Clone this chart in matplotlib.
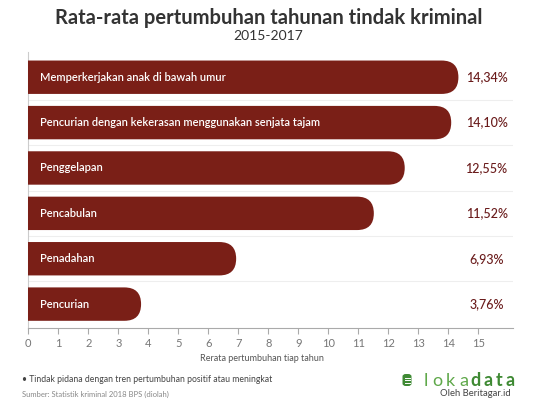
import matplotlib.pyplot as plt
from matplotlib.patches import FancyBboxPatch

plt.rcParams['font.family'] = ['Lato', 'DejaVu Sans']

categories = [
    "Memperkerjakan anak di bawah umur",
    "Pencurian dengan kekerasan menggunakan senjata tajam",
    "Penggelapan",
    "Pencabulan",
    "Penadahan",
    "Pencurian",
]
values = [14.34, 14.10, 12.55, 11.52, 6.93, 3.76]
value_labels = ["14,34%", "14,10%", "12,55%", "11,52%", "6,93%", "3,76%"]
xticks = list(range(16))

bar_color = "#7a1f17"
label_color = "#6a1b1b"
green = "#3f8a34"

W, H = 540, 409
fig = plt.figure(figsize=(W / 100, H / 100), dpi=100)
ax_rect = [28.3 / W, (H - 327.7) / H, 484.7 / W, 275.7 / H]
ax = fig.add_axes(ax_rect)

ypos = list(range(len(values)))
xmax = 16.16
ylo, yhi = 5.52, -0.556
ax.set_xlim(0, xmax)
ax.set_ylim(ylo, yhi)

bar_h = 0.736
bars = ax.barh(ypos, values, height=bar_h, color=bar_color)

# px per unit in x and y, for the round caps
px_x = 484.7 / xmax
px_y = 275.7 / (ylo - yhi)
r_px = bar_h * px_y / 2
r_x = r_px / px_x

for rect in bars:
    x0, y0 = rect.get_x(), rect.get_y()
    w, h = rect.get_width(), rect.get_height()
    rect.set_visible(False)
    patch = FancyBboxPatch(
        (x0 - 2, y0), w + 2, h,
        boxstyle=f"round,pad=0,rounding_size={r_x}",
        mutation_aspect=px_x / px_y,
        facecolor=bar_color, edgecolor="none", zorder=3,
    )
    ax.add_patch(patch)

# faint separators
for y in ypos[:-1]:
    ax.axhline(y + 0.5, color="#eeeeee", lw=0.8, zorder=1)

for y, cat in zip(ypos, categories):
    ax.text(0.38, y, cat, color="white", fontsize=8, va="center",
            ha="left", zorder=4, fontweight="semibold")

for y, lab in zip(ypos, value_labels):
    ax.text(15.28, y, lab, color=label_color, fontsize=9, va="center",
            ha="center", zorder=4, fontweight="medium")

for side in ["top", "right"]:
    ax.spines[side].set_visible(False)
ax.spines["left"].set_color("#cccccc")
ax.spines["bottom"].set_color("#aaaaaa")
ax.spines["left"].set_linewidth(0.8)
ax.spines["bottom"].set_linewidth(0.8)

ax.set_yticks([])
ax.set_xticks(xticks)
ax.tick_params(axis="x", direction="out", length=4, color="#aaaaaa",
               labelsize=8, labelcolor="#777777", pad=3.5)

ax.set_xlabel("Rerata pertumbuhan tiap tahun", fontsize=6.5,
              color="#555555")
ax.xaxis.set_label_coords((262 - 28.3) / 484.7, -0.1135)
ax.xaxis.label.set_va("center")

fig.text(0.498, 0.956, "Rata-rata pertumbuhan tahunan tindak kriminal",
         ha="center", va="center", fontsize=14.5, fontweight="bold",
         color="#333333")
fig.text(0.497, 0.912, "2015-2017", ha="center", va="center",
         fontsize=10, color="#333333")

fig.text(21.7 / W, 1 - 380 / H,
         "\u2022 Tindak pidana dengan tren pertumbuhan positif atau meningkat",
         fontsize=6.2, color="#444444", va="center")
fig.text(21.7 / W, 1 - 394 / H, "Sumber: Statistik kriminal 2018 BPS (diolah)",
         fontsize=5.5, color="#888888", va="center")

# logo
icon = FancyBboxPatch((402.5 / W, 1 - 386 / H), 9 / W, 12 / H,
                      boxstyle="round,pad=0,rounding_size=0.006",
                      transform=fig.transFigure, facecolor=green,
                      edgecolor="none")
fig.patches.append(icon)
for yy in [377.5, 380, 382.5]:
    fig.lines.append(plt.Line2D([404.5 / W, 409.5 / W], [1 - yy / H] * 2,
                                transform=fig.transFigure, color="white",
                                lw=0.7))
for ch, cx in zip("loka", [426, 437, 450, 463.5]):
    fig.text(cx / W, 1 - 380.7 / H, ch, fontsize=13, color="#5fa84a",
             va="center", ha="center")
for ch, cx in zip("data", [475.5, 488, 499.5, 510.5]):
    fig.text(cx / W, 1 - 380.7 / H, ch, fontsize=13, color=green,
             fontweight="bold", va="center", ha="center")
fig.text(510.5 / W, 1 - 393.5 / H, "Oleh Beritagar.id", fontsize=6.8,
         color="#444444", va="center", ha="right")

fig.savefig("out.png", dpi=100)
